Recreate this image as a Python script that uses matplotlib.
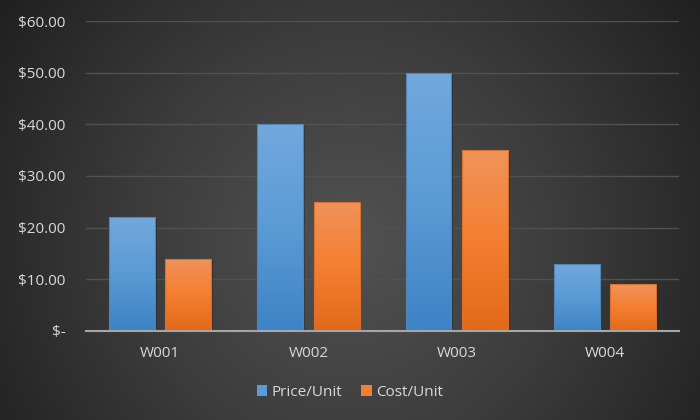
import numpy as np
import matplotlib
matplotlib.use("Agg")
import matplotlib.pyplot as plt
from matplotlib.colors import LinearSegmentedColormap
from matplotlib.patches import Rectangle

# data
products = ["W001", "W002", "W003", "W004"]
price_per_unit = [22, 40, 50, 13]
cost_per_unit = [14, 25, 35, 9]
y_ticks = [0, 10, 20, 30, 40, 50, 60]
y_labels = ["$-", "$10.00", "$20.00", "$30.00", "$40.00", "$50.00", "$60.00"]

plt.rcParams['font.family'] = ['Open Sans', 'DejaVu Sans']
text_col = "#d9d9d9"

fig = plt.figure(figsize=(7, 4.2), dpi=100)

# radial gradient background
bg = fig.add_axes([0, 0, 1, 1], zorder=-10)
xx, yy = np.meshgrid(np.linspace(0, 1, 350), np.linspace(0, 1, 210))
r = np.sqrt(((xx - 0.5) * 1.0) ** 2 + ((yy - 0.42) * 0.6) ** 2)
r = np.clip(r / 0.62, 0, 1)
bg_cmap = LinearSegmentedColormap.from_list("bg", ["#525252", "#3c3c3c", "#202020"])
bg.imshow(r, cmap=bg_cmap, extent=[0, 1, 0, 1], origin="lower", aspect="auto")
bg.axis("off")

ax = fig.add_axes([0.123, 0.212, 0.847, 0.738])
ax.patch.set_alpha(0)

x = np.arange(len(products))
w = 0.31
off = 0.19

blue_cmap = LinearSegmentedColormap.from_list("b", ["#3e83c6", "#5b9bd5", "#72a8dd"])
orange_cmap = LinearSegmentedColormap.from_list("o", ["#e2691a", "#f47f30", "#f0935a"])
grad = np.linspace(0, 1, 100).reshape(-1, 1)

def draw_bars(xs, vals, cmap, edge):
    for xi, v in zip(xs, vals):
        # soft shadow
        ax.add_patch(Rectangle((xi - w / 2 + 0.012, 0), w, v - 0.3, facecolor="black",
                               alpha=0.25, edgecolor="none", zorder=2))
        rect = Rectangle((xi - w / 2, 0), w, v, facecolor="none", edgecolor=edge,
                         linewidth=0.8, zorder=4)
        ax.add_patch(rect)
        im = ax.imshow(grad, cmap=cmap, extent=[xi - w / 2, xi + w / 2, 0, v],
                       origin="lower", aspect="auto", zorder=3)
        im.set_clip_path(rect)

draw_bars(x - off, price_per_unit, blue_cmap, "#4f86b8")
draw_bars(x + off, cost_per_unit, orange_cmap, "#d9712e")

ax.set_xlim(-0.5, len(products) - 0.5)
ax.set_ylim(0, 60)
ax.set_yticks(y_ticks)
ax.set_yticklabels(y_labels)
ax.set_xticks(x)
ax.set_xticklabels(products)
ax.tick_params(axis="both", length=0, colors=text_col, labelsize=11)
ax.tick_params(axis="y", pad=15)
ax.tick_params(axis="x", pad=11)
ax.grid(axis="y", color="#515151", linewidth=1)
ax.set_axisbelow(True)
for s in ["top", "right", "left"]:
    ax.spines[s].set_visible(False)
ax.spines["bottom"].set_color("#a6a6a6")
ax.spines["bottom"].set_linewidth(1.5)
ax.spines["bottom"].set_zorder(5)

handles = [Rectangle((0, 0), 1, 1, facecolor="#5b9bd5"),
           Rectangle((0, 0), 1, 1, facecolor="#f47f30")]
fig.legend(handles, ["Price/Unit", "Cost/Unit"], loc="center", bbox_to_anchor=(0.5, 0.066),
           ncol=2, frameon=False, fontsize=11, labelcolor=text_col,
           handlelength=0.7, handleheight=0.7, handletextpad=0.3, columnspacing=1.2)

fig.savefig("out.png", dpi=100)
